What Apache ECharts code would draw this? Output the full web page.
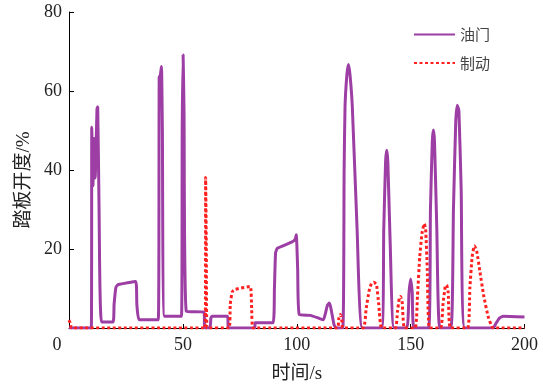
<!DOCTYPE html>
<html>
<head>
<meta charset="utf-8">
<script src="https://cdn.jsdelivr.net/npm/echarts@6/dist/echarts.min.js"></script>
<style>
  html, body { margin: 0; padding: 0; background: #fff; }
  #chart { width: 543px; height: 389px; }
</style>
</head>
<body>
<div id="chart"></div>
<script>
// 油门 (throttle) pedal opening, [time s, %]
const throttle = [
  [0, 0], [9.8, 0], [10.0, 50.8], [10.5, 36], [11.0, 48], [11.5, 38], [12.3, 55.5], [12.6, 56],
  [13.2, 30], [14.3, 1.5], [19.3, 1.5], [19.8, 6], [20.6, 10.3], [21.7, 11], [29.3, 11.8],
  [29.8, 6], [30.8, 2.1], [39.2, 2.1], [39.6, 63.5], [40.1, 64], [40.6, 66.2], [41.0, 50],
  [42.0, 3], [49.4, 3], [49.7, 50], [50.1, 69.2], [50.5, 55], [51.5, 4.2], [59.3, 4],
  [59.6, 0], [61.9, 0], [62.3, 2.5], [62.8, 3], [69.6, 3], [70.0, 0], [81.6, 0], [81.7, 1.3],
  [89.6, 1.3], [90.2, 10], [90.7, 19], [91.5, 20.2], [98.0, 21.8], [99.3, 22.5], [99.8, 23.6],
  [100.4, 15], [101.1, 3.4], [106, 3.2], [110, 2.4], [111.7, 2.1], [112.5, 3.5], [113.5, 5.8],
  [114.3, 6.3], [115, 5], [116.3, 1], [117.2, 0], [120.2, 0], [120.8, 40], [121.2, 56],
  [122.0, 64], [122.7, 66.7], [123.4, 64], [124.4, 56], [126.5, 25], [128.8, 0], [137.3, 0],
  [138.2, 25], [139.0, 42], [139.5, 45], [140.0, 42], [141.0, 22], [142.7, 0], [148.3, 0],
  [149.3, 9], [150.0, 12.4], [150.7, 9], [151.5, 0], [157.9, 0], [158.7, 30], [159.5, 47],
  [160.0, 50.1], [160.5, 47], [161.5, 25], [162.8, 0], [167.7, 0], [168.8, 30], [169.8, 52],
  [170.5, 56.4], [171.2, 55], [172.2, 35], [173.8, 0], [186.3, 0], [187.5, 1.2], [189, 2.5],
  [190.7, 3], [200, 2.8]
];

// 制动 (brake) pedal opening, [time s, %]
const brake = [
  [0, 2], [0.5, 1.3], [1.2, 0], [59.8, 0], [60.0, 38.1], [60.3, 20], [60.6, 0], [70.3, 0],
  [70.8, 6], [71.7, 9.2], [73, 9.8], [79.5, 10.5], [80.2, 5], [80.9, 0], [117.8, 0],
  [118.5, 2.5], [119.2, 3.4], [119.8, 2], [120.2, 0], [129.2, 0], [130.5, 5], [131.8, 9.5],
  [132.8, 11.3], [133.8, 11.6], [135, 11], [136, 6], [137.3, 0], [143.3, 0], [144.2, 4],
  [145, 7.5], [145.6, 8], [146.3, 6.5], [147.3, 0], [152, 0], [153, 8], [154, 18], [155, 24],
  [156, 26.4], [156.6, 25], [157.3, 15], [158.3, 0], [163.2, 0], [164.2, 6], [165.2, 10.5],
  [165.8, 10.9], [166.5, 9], [167.5, 0], [175, 0], [176, 10], [177, 18], [178, 20.8],
  [179, 19.5], [180.5, 14], [182, 8.5], [184, 3], [186.3, 0], [200, 0]
];

const seriesNames = ['油门', '制动'];
const xTicks = [0, 50, 100, 150, 200];
const yTicks = [0, 20, 40, 60, 80];

const serif = '"Liberation Serif", "Noto Sans CJK SC", serif';
const purple = '#9c3ea3';
const red = '#ff2020';

const chart = echarts.init(document.getElementById('chart'), null, { renderer: 'canvas' });

chart.setOption({
  animation: false,
  grid: { left: 69, right: 18.5, top: 12, bottom: 59 },
  legend: {
    orient: 'vertical',
    left: 408,
    top: 22,
    itemWidth: 41,
    itemHeight: 14,
    itemGap: 13.5,
    itemStyle: { opacity: 0 },
    textStyle: { fontSize: 15, color: '#444', fontFamily: '"Noto Sans CJK SC", sans-serif' },
    data: seriesNames
  },
  xAxis: {
    type: 'value',
    min: xTicks[0],
    max: xTicks[xTicks.length - 1],
    interval: 50,
    name: '时间/s',
    nameLocation: 'middle',
    nameGap: 37,
    nameTextStyle: { fontSize: 19, color: '#222', fontFamily: serif },
    axisLine: { lineStyle: { color: '#000', width: 1 } },
    axisTick: { inside: true, length: 4, lineStyle: { color: '#000' } },
    splitLine: { show: false },
    axisLabel: {
      margin: 8,
      fontSize: 18,
      color: '#222',
      fontFamily: serif,
      formatter: v => (v === 0 ? '{z|0}' : String(v)),
      rich: { z: { fontSize: 18, fontFamily: serif, color: '#222', padding: [0, 24, 0, 0] } }
    }
  },
  yAxis: {
    type: 'value',
    min: yTicks[0],
    max: yTicks[yTicks.length - 1],
    interval: 20,
    name: '踏板开度/%',
    nameLocation: 'middle',
    nameRotate: 90,
    nameGap: 30,
    nameTextStyle: { fontSize: 19, color: '#222', fontFamily: serif, padding: [0, 20, 0, 0] },
    axisLine: { show: true, lineStyle: { color: '#000', width: 1 } },
    axisTick: { show: true, inside: true, length: 5, lineStyle: { color: '#000' } },
    splitLine: { show: false },
    axisLabel: {
      margin: 7,
      fontSize: 18,
      color: '#222',
      fontFamily: serif,
      showMinLabel: false
    }
  },
  series: [
    {
      name: seriesNames[0],
      type: 'line',
      data: throttle,
      symbol: 'none',
      smooth: 0.15,
      lineStyle: { color: purple, width: 3 },
      itemStyle: { color: purple }
    },
    {
      name: seriesNames[1],
      type: 'line',
      data: brake,
      symbol: 'none',
      smooth: 0.15,
      lineStyle: { color: red, width: 3, type: [3, 2.5] },
      itemStyle: { color: red }
    }
  ]
});
</script>
</body>
</html>
